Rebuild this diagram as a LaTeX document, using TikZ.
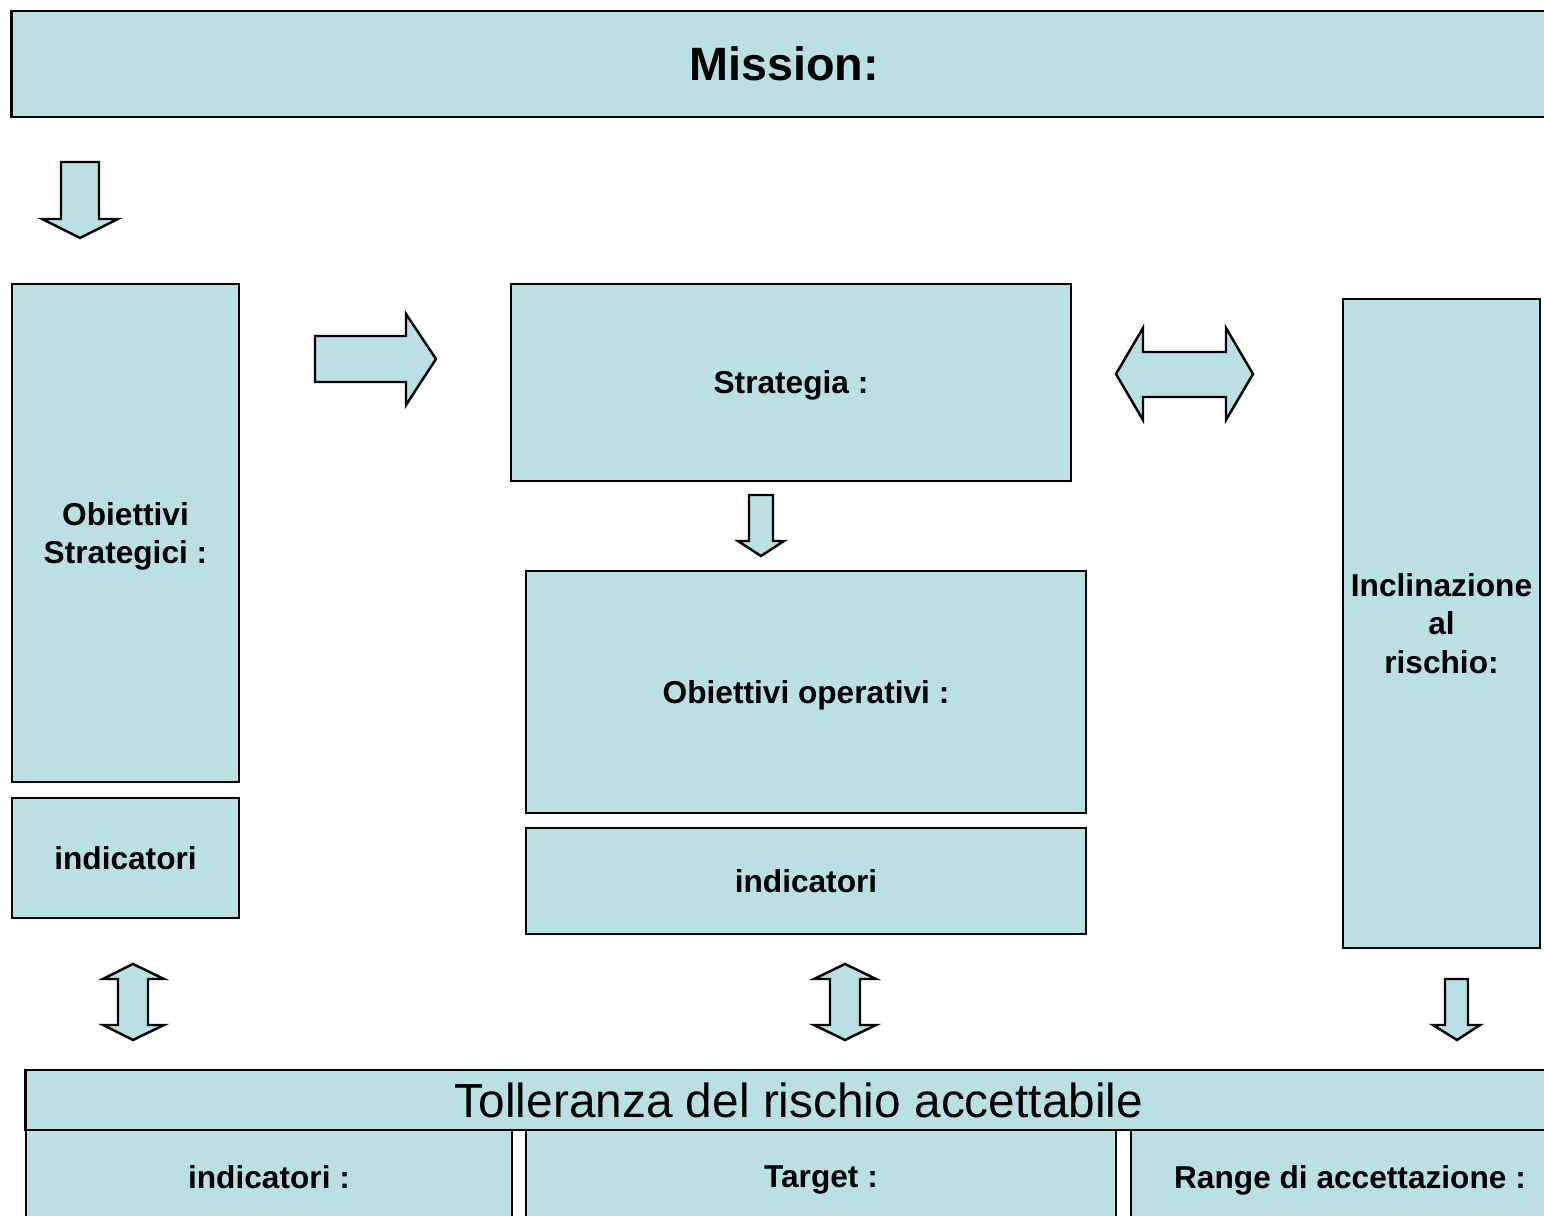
\documentclass[tikz,border=0pt]{standalone}
\usepackage{fontspec}
\setmainfont{Liberation Sans}
\usepackage{tikz}

\definecolor{boxblue}{RGB}{187,224,227}

\begin{document}
\begin{tikzpicture}[x=0.01cm, y=-0.01cm,
  box/.style={draw=black, fill=boxblue, line width=0.7pt, inner sep=0pt, align=center,
    text depth=0pt, font=\fontsize{9}{10.9}\selectfont\bfseries},
  blockarrow/.style={draw=black, fill=boxblue, line width=0.7pt, line join=miter}]
\clip (0,0) rectangle (1544,1216);
% top
\node[box, minimum width=15.44cm, minimum height=1.06cm, font=\fontsize{13.3}{16}\selectfont\bfseries] (mission) at (784,64) {Mission:};
% left column
\node[box, minimum width=2.27cm, minimum height=4.98cm] (obstrat) at (125.5,533) {Obiettivi\\Strategici :};
\node[box, minimum width=2.27cm, minimum height=1.20cm] (indleft) at (125.5,858) {indicatori};
% middle column
\node[box, minimum width=5.60cm, minimum height=1.97cm] (strategia) at (791,382.5) {Strategia :};
\node[box, minimum width=5.60cm, minimum height=2.42cm] (obop) at (806,692) {Obiettivi operativi :};
\node[box, minimum width=5.60cm, minimum height=1.06cm] (indmid) at (806,881) {indicatori};
% right column
\node[box, minimum width=1.97cm, minimum height=6.49cm, text depth=-1.5pt] (inclin) at (1441.5,623.5) {Inclinazione\\al\\rischio:};
% tolerance table
\node[box, minimum width=15.46cm, minimum height=0.60cm, text depth=, font=\fontsize{13.6}{16}\selectfont] (toll) at (799,1100) {Tolleranza del rischio accettabile};
\node[box, minimum width=4.86cm, minimum height=0.94cm] (cellind) at (269,1177) {indicatori :};
\node[box, minimum width=5.90cm, minimum height=0.94cm] (celltarget) at (821,1177) {Target :};
\node[box, minimum width=4.38cm, minimum height=0.94cm] (cellrange) at (1350,1177) {Range di accettazione :};

% block arrows
\draw[blockarrow] (61,162) -- (99,162) -- (99,219) -- (118,219) -- (80,238) -- (42,219) -- (61,219) -- cycle;
\draw[blockarrow] (315,336) -- (406,336) -- (406,314) -- (436,359) -- (406,405) -- (406,382) -- (315,382) -- cycle;
\draw[blockarrow] (1116,374) -- (1143,328) -- (1143,352) -- (1226,352) -- (1226,328) -- (1253,374)
  -- (1226,420) -- (1226,397) -- (1143,397) -- (1143,420) -- cycle;
\draw[blockarrow] (749,495) -- (773,495) -- (773,541) -- (784,541) -- (761,556) -- (738,541) -- (749,541) -- cycle;
\draw[blockarrow] (133,964) -- (164,979) -- (148,979) -- (148,1025) -- (164,1025) -- (133,1040)
  -- (103,1025) -- (118,1025) -- (118,979) -- (103,979) -- cycle;
\draw[blockarrow] (845,964) -- (876,979) -- (860,979) -- (860,1025) -- (876,1025) -- (845,1040)
  -- (814,1025) -- (830,1025) -- (830,979) -- (814,979) -- cycle;
\draw[blockarrow] (1445,979) -- (1468,979) -- (1468,1025) -- (1480,1025) -- (1457,1040) -- (1433,1025) -- (1445,1025) -- cycle;
\end{tikzpicture}
\end{document}
